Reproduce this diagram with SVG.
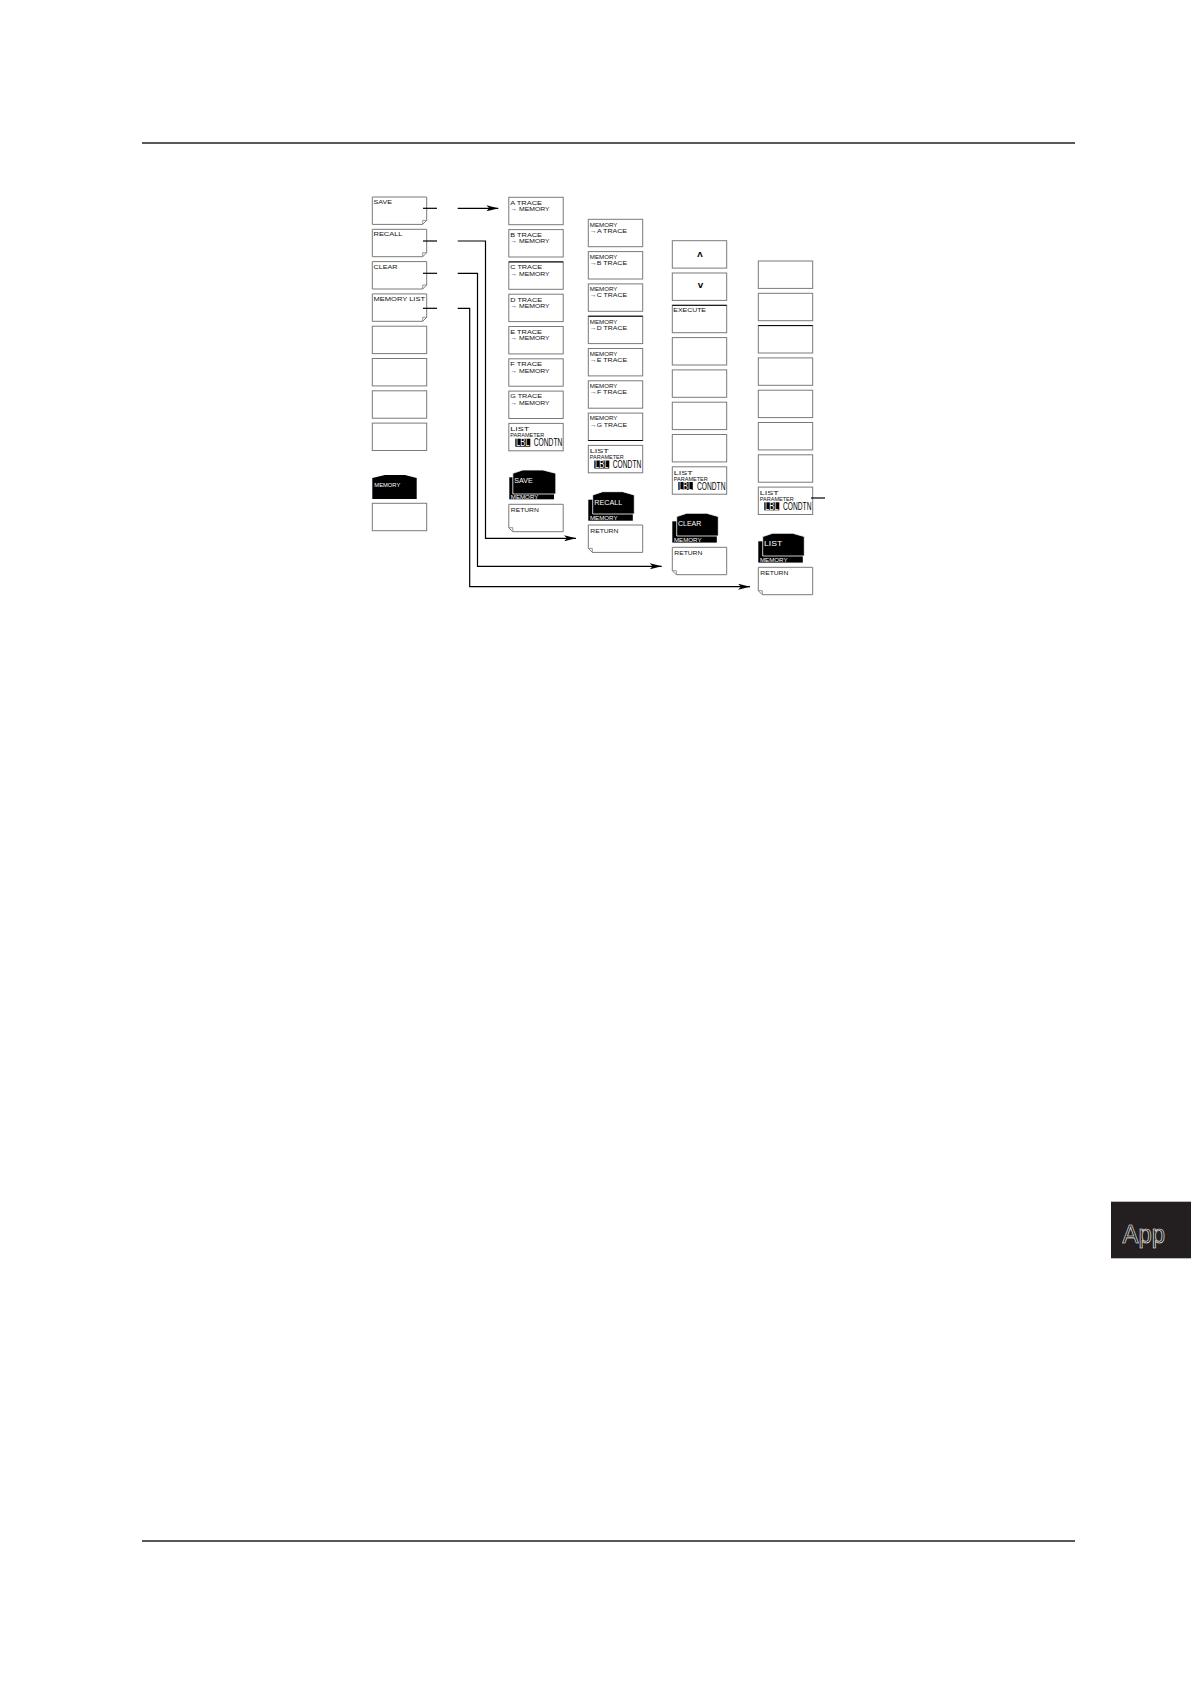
<svg xmlns="http://www.w3.org/2000/svg" width="1191" height="1684" viewBox="0 0 1191 1684">
<style>
.box{fill:#fff;stroke:#7a7a7a;stroke-width:1}
.flap{fill:none;stroke:#7a7a7a;stroke-width:0.8}
.edge{stroke:#000;stroke-width:1}
.t{font-family:"Liberation Sans","DejaVu Sans",sans-serif;font-size:6.2px;fill:#111}
.tw{font-family:"Liberation Sans","DejaVu Sans",sans-serif;font-size:6.2px;fill:#fff}
.tb{font-family:"Liberation Sans","DejaVu Sans",sans-serif;font-size:6.8px;fill:#fff}
.c{font-family:"Liberation Sans","DejaVu Sans",sans-serif;font-size:10px;fill:#000}
.cw{font-family:"Liberation Sans","DejaVu Sans",sans-serif;font-size:10px;fill:#fff}
.sym{font-family:"DejaVu Sans","Liberation Sans",sans-serif;font-size:7px;font-weight:bold;fill:#000}
.blk{fill:#000}
.front{fill:#000;stroke:#fff;stroke-width:0.8}
.conn{fill:none;stroke:#000;stroke-width:1.2}
.rule{stroke:#231f20;stroke-width:1.5}
</style>
<defs>
<marker id="ah" markerUnits="userSpaceOnUse" markerWidth="12" markerHeight="6" refX="12" refY="3" orient="auto">
<path d="M0,0 L12,3 L0,6 L3,3 Z" fill="#000"/>
</marker>
</defs>
<rect width="1191" height="1684" fill="#fff"/>
<line class="rule" x1="142" y1="143" x2="1075" y2="143"/>
<line class="rule" x1="142" y1="1541" x2="1075" y2="1541"/>

<!-- Column 1 -->
<g id="save">
<path class="box" d="M372.3,197 H426.7 V220.4 L422.7,224.4 H372.3 Z"/>
<path class="flap" d="M426.7,220.4 H422.7 V224.4"/>
<text class="t" x="373.5" y="204" textLength="18.4" lengthAdjust="spacingAndGlyphs">SAVE</text>
</g>
<g id="recall">
<path class="box" d="M372.3,229.3 H426.7 V252.7 L422.7,256.7 H372.3 Z"/>
<path class="flap" d="M426.7,252.7 H422.7 V256.7"/>
<text class="t" x="373.5" y="236.3" textLength="29" lengthAdjust="spacingAndGlyphs">RECALL</text>
</g>
<g id="clear">
<path class="box" d="M372.3,261.6 H426.7 V285 L422.7,289 H372.3 Z"/>
<path class="flap" d="M426.7,285 H422.7 V289"/>
<text class="t" x="373.5" y="268.6" textLength="24" lengthAdjust="spacingAndGlyphs">CLEAR</text>
</g>
<g id="memory-list">
<path class="box" d="M372.3,293.9 H426.7 V317.3 L422.7,321.3 H372.3 Z"/>
<path class="flap" d="M426.7,317.3 H422.7 V321.3"/>
<text class="t" x="373.5" y="300.9" textLength="51.5" lengthAdjust="spacingAndGlyphs">MEMORY LIST</text>
</g>
<g id="c1-blank1"><rect class="box" x="372.3" y="326.2" width="54.4" height="27.4"/></g>
<g id="c1-blank2"><rect class="box" x="372.3" y="358.5" width="54.4" height="27.4"/></g>
<g id="c1-blank3"><rect class="box" x="372.3" y="390.8" width="54.4" height="27.4"/></g>
<g id="c1-blank4"><rect class="box" x="372.3" y="423.1" width="54.4" height="27.4"/></g>
<g id="c1-tab">
<polygon class="blk" points="372.3,478 385,475 405,475 416.7,478 416.7,499 372.3,499"/>
<text class="tw" x="374.3" y="487" textLength="26" lengthAdjust="spacingAndGlyphs">MEMORY</text>
</g>
<g id="c1-blank5"><rect class="box" x="372.3" y="503.3" width="54.4" height="27.4"/></g>

<!-- Column 2 -->
<g id="a-trace"><rect class="box" x="508.8" y="197.3" width="54.4" height="27.4"/>
<text class="t" x="510.3" y="204.6" textLength="31.7" lengthAdjust="spacingAndGlyphs">A TRACE</text>
<text class="t" x="510.3" y="211.1" textLength="39.3" lengthAdjust="spacingAndGlyphs">→ MEMORY</text></g>
<g id="b-trace"><rect class="box" x="508.8" y="229.6" width="54.4" height="27.4"/>
<text class="t" x="510.3" y="236.9" textLength="31.7" lengthAdjust="spacingAndGlyphs">B TRACE</text>
<text class="t" x="510.3" y="243.4" textLength="39.3" lengthAdjust="spacingAndGlyphs">→ MEMORY</text></g>
<g id="c-trace"><rect class="box" x="508.8" y="261.9" width="54.4" height="27.4"/>
<line class="edge" x1="508.8" y1="261.9" x2="563.2" y2="261.9"/>
<text class="t" x="510.3" y="269.2" textLength="31.7" lengthAdjust="spacingAndGlyphs">C TRACE</text>
<text class="t" x="510.3" y="275.7" textLength="39.3" lengthAdjust="spacingAndGlyphs">→ MEMORY</text></g>
<g id="d-trace"><rect class="box" x="508.8" y="294.2" width="54.4" height="27.4"/>
<text class="t" x="510.3" y="301.5" textLength="31.7" lengthAdjust="spacingAndGlyphs">D TRACE</text>
<text class="t" x="510.3" y="308" textLength="39.3" lengthAdjust="spacingAndGlyphs">→ MEMORY</text></g>
<g id="e-trace"><rect class="box" x="508.8" y="326.5" width="54.4" height="27.4"/>
<text class="t" x="510.3" y="333.8" textLength="31.7" lengthAdjust="spacingAndGlyphs">E TRACE</text>
<text class="t" x="510.3" y="340.3" textLength="39.3" lengthAdjust="spacingAndGlyphs">→ MEMORY</text></g>
<g id="f-trace"><rect class="box" x="508.8" y="358.8" width="54.4" height="27.4"/>
<text class="t" x="510.3" y="366.1" textLength="31.7" lengthAdjust="spacingAndGlyphs">F TRACE</text>
<text class="t" x="510.3" y="372.6" textLength="39.3" lengthAdjust="spacingAndGlyphs">→ MEMORY</text></g>
<g id="g-trace"><rect class="box" x="508.8" y="391.1" width="54.4" height="27.4"/>
<text class="t" x="510.3" y="398.4" textLength="31.7" lengthAdjust="spacingAndGlyphs">G TRACE</text>
<text class="t" x="510.3" y="404.9" textLength="39.3" lengthAdjust="spacingAndGlyphs">→ MEMORY</text></g>
<g id="c2-list-param"><rect class="box" x="508.8" y="423.4" width="54.4" height="27.4"/>
<text class="t" x="510.3" y="431.1" textLength="19" lengthAdjust="spacingAndGlyphs">LIST</text>
<text class="t" x="510.3" y="437.1" textLength="34" lengthAdjust="spacingAndGlyphs">PARAMETER</text>
<rect class="blk" x="515.3" y="438.7" width="15" height="8"/>
<text class="cw" x="516" y="446.2" textLength="13.5" lengthAdjust="spacingAndGlyphs">LBL</text>
<text class="c" x="533.8" y="446.4" textLength="28.5" lengthAdjust="spacingAndGlyphs">CONDTN</text></g>
<g id="c2-tab">
<rect class="blk" x="509.3" y="477.3" width="44.7" height="22"/>
<polygon class="front" points="512.8,494 512.8,473.3 522.8,470 542.8,470 555.8,473.3 555.8,494"/>
<text class="tb" x="514.3" y="483" textLength="18.3" lengthAdjust="spacingAndGlyphs">SAVE</text>
<text class="tw" x="510.8" y="498.6" textLength="27.5" lengthAdjust="spacingAndGlyphs">MEMORY</text>
</g>
<g id="c2-return">
<path class="box" d="M508.8,504.3 H563.2 V531.7 H512.8 L508.8,527.7 Z"/>
<path class="flap" d="M508.8,527.7 H512.8 V531.7"/>
<text class="t" x="510.8" y="512.3" textLength="28" lengthAdjust="spacingAndGlyphs">RETURN</text>
</g>

<!-- Column 3 -->
<g id="mem-a"><rect class="box" x="588.3" y="219.3" width="54.4" height="27.4"/>
<text class="t" x="589.8" y="226.6" textLength="27.7" lengthAdjust="spacingAndGlyphs">MEMORY</text>
<text class="t" x="589.8" y="232.8" textLength="37.3" lengthAdjust="spacingAndGlyphs">→A TRACE</text></g>
<g id="mem-b"><rect class="box" x="588.3" y="251.6" width="54.4" height="27.4"/>
<text class="t" x="589.8" y="258.9" textLength="27.7" lengthAdjust="spacingAndGlyphs">MEMORY</text>
<text class="t" x="589.8" y="265.1" textLength="37.3" lengthAdjust="spacingAndGlyphs">→B TRACE</text></g>
<g id="mem-c"><rect class="box" x="588.3" y="283.9" width="54.4" height="27.4"/>
<text class="t" x="589.8" y="291.2" textLength="27.7" lengthAdjust="spacingAndGlyphs">MEMORY</text>
<text class="t" x="589.8" y="297.4" textLength="37.3" lengthAdjust="spacingAndGlyphs">→C TRACE</text></g>
<g id="mem-d"><rect class="box" x="588.3" y="316.2" width="54.4" height="27.4"/>
<line class="edge" x1="588.3" y1="316.2" x2="642.7" y2="316.2"/>
<text class="t" x="589.8" y="323.5" textLength="27.7" lengthAdjust="spacingAndGlyphs">MEMORY</text>
<text class="t" x="589.8" y="329.7" textLength="37.3" lengthAdjust="spacingAndGlyphs">→D TRACE</text></g>
<g id="mem-e"><rect class="box" x="588.3" y="348.5" width="54.4" height="27.4"/>
<text class="t" x="589.8" y="355.8" textLength="27.7" lengthAdjust="spacingAndGlyphs">MEMORY</text>
<text class="t" x="589.8" y="362" textLength="37.3" lengthAdjust="spacingAndGlyphs">→E TRACE</text></g>
<g id="mem-f"><rect class="box" x="588.3" y="380.8" width="54.4" height="27.4"/>
<text class="t" x="589.8" y="388.1" textLength="27.7" lengthAdjust="spacingAndGlyphs">MEMORY</text>
<text class="t" x="589.8" y="394.3" textLength="37.3" lengthAdjust="spacingAndGlyphs">→F TRACE</text></g>
<g id="mem-g"><rect class="box" x="588.3" y="413.1" width="54.4" height="27.4"/>
<line class="edge" x1="588.3" y1="440.5" x2="642.7" y2="440.5"/>
<text class="t" x="589.8" y="420.4" textLength="27.7" lengthAdjust="spacingAndGlyphs">MEMORY</text>
<text class="t" x="589.8" y="426.6" textLength="37.3" lengthAdjust="spacingAndGlyphs">→G TRACE</text></g>
<g id="c3-list-param"><rect class="box" x="588.3" y="445.4" width="54.4" height="27.4"/>
<text class="t" x="589.8" y="453.1" textLength="19" lengthAdjust="spacingAndGlyphs">LIST</text>
<text class="t" x="589.8" y="459.1" textLength="34" lengthAdjust="spacingAndGlyphs">PARAMETER</text>
<rect class="blk" x="594.3" y="460.5" width="15" height="8"/>
<text class="cw" x="595" y="468" textLength="13.5" lengthAdjust="spacingAndGlyphs">LBL</text>
<text class="c" x="612.8" y="468.2" textLength="28.5" lengthAdjust="spacingAndGlyphs">CONDTN</text></g>
<g id="c3-tab">
<rect class="blk" x="588.3" y="499.7" width="44.5" height="21"/>
<polygon class="front" points="592.7,514 592.7,495 602.7,491.7 622.7,491.7 634.3,495 634.3,514"/>
<text class="tb" x="594.2" y="504.7" textLength="28" lengthAdjust="spacingAndGlyphs">RECALL</text>
<text class="tw" x="590" y="520.2" textLength="27.5" lengthAdjust="spacingAndGlyphs">MEMORY</text>
</g>
<g id="c3-return">
<path class="box" d="M588.3,525 H642.7 V552.4 H592.3 L588.3,548.4 Z"/>
<path class="flap" d="M588.3,548.4 H592.3 V552.4"/>
<text class="t" x="590.3" y="533" textLength="28" lengthAdjust="spacingAndGlyphs">RETURN</text>
</g>

<!-- Column 4 -->
<g id="up"><rect class="box" x="672.3" y="240.7" width="54.4" height="27.4"/>
<text class="sym" x="700" y="257" text-anchor="middle">Λ</text></g>
<g id="down"><rect class="box" x="672.3" y="273" width="54.4" height="27.4"/>
<text class="sym" x="700.5" y="287.5" text-anchor="middle">V</text></g>
<g id="execute"><rect class="box" x="672.3" y="305.3" width="54.4" height="27.4"/>
<line class="edge" x1="672.3" y1="305.3" x2="726.7" y2="305.3"/>
<text class="t" x="673.3" y="312.3" textLength="32.7" lengthAdjust="spacingAndGlyphs">EXECUTE</text></g>
<g id="c4-blank1"><rect class="box" x="672.3" y="337.6" width="54.4" height="27.4"/></g>
<g id="c4-blank2"><rect class="box" x="672.3" y="369.9" width="54.4" height="27.4"/></g>
<g id="c4-blank3"><rect class="box" x="672.3" y="402.2" width="54.4" height="27.4"/></g>
<g id="c4-blank4"><rect class="box" x="672.3" y="434.5" width="54.4" height="27.4"/></g>
<g id="c4-list-param"><rect class="box" x="672.3" y="466.8" width="54.4" height="27.4"/>
<text class="t" x="673.8" y="474.5" textLength="19" lengthAdjust="spacingAndGlyphs">LIST</text>
<text class="t" x="673.8" y="480.5" textLength="34" lengthAdjust="spacingAndGlyphs">PARAMETER</text>
<rect class="blk" x="678.3" y="482" width="14.5" height="8"/>
<text class="cw" x="679" y="489.5" textLength="13" lengthAdjust="spacingAndGlyphs">LBL</text>
<text class="c" x="697" y="489.7" textLength="28.5" lengthAdjust="spacingAndGlyphs">CONDTN</text></g>
<g id="c4-tab">
<rect class="blk" x="672.3" y="521.3" width="44.5" height="21.3"/>
<polygon class="front" points="676.7,536 676.7,516.6 686.7,513.3 706.7,513.3 718.3,516.6 718.3,536"/>
<text class="tb" x="678" y="526.3" textLength="23.3" lengthAdjust="spacingAndGlyphs">CLEAR</text>
<text class="tw" x="674" y="542" textLength="27.5" lengthAdjust="spacingAndGlyphs">MEMORY</text>
</g>
<g id="c4-return">
<path class="box" d="M672.3,547.3 H726.7 V574.7 H676.3 L672.3,570.7 Z"/>
<path class="flap" d="M672.3,570.7 H676.3 V574.7"/>
<text class="t" x="674.3" y="555.3" textLength="28" lengthAdjust="spacingAndGlyphs">RETURN</text>
</g>

<!-- Column 5 -->
<g id="c5-blank1"><rect class="box" x="758.3" y="261" width="54.4" height="27.4"/></g>
<g id="c5-blank2"><rect class="box" x="758.3" y="293.3" width="54.4" height="27.4"/></g>
<g id="c5-blank3"><rect class="box" x="758.3" y="325.6" width="54.4" height="27.4"/>
<line class="edge" x1="758.3" y1="325.6" x2="812.7" y2="325.6"/></g>
<g id="c5-blank4"><rect class="box" x="758.3" y="357.9" width="54.4" height="27.4"/></g>
<g id="c5-blank5"><rect class="box" x="758.3" y="390.2" width="54.4" height="27.4"/></g>
<g id="c5-blank6"><rect class="box" x="758.3" y="422.5" width="54.4" height="27.4"/></g>
<g id="c5-blank7"><rect class="box" x="758.3" y="454.8" width="54.4" height="27.4"/></g>
<g id="c5-list-param"><rect class="box" x="758.3" y="487.1" width="54.4" height="27.4"/>
<text class="t" x="759.8" y="494.8" textLength="19" lengthAdjust="spacingAndGlyphs">LIST</text>
<text class="t" x="759.8" y="500.8" textLength="34" lengthAdjust="spacingAndGlyphs">PARAMETER</text>
<rect class="blk" x="764.3" y="502.3" width="15" height="8"/>
<text class="cw" x="765" y="509.8" textLength="13.5" lengthAdjust="spacingAndGlyphs">LBL</text>
<text class="c" x="783" y="510" textLength="28.5" lengthAdjust="spacingAndGlyphs">CONDTN</text></g>
<g id="c5-tab">
<rect class="blk" x="758.3" y="541.3" width="44.5" height="21.3"/>
<polygon class="front" points="762.7,556 762.7,536.6 772.7,533.3 792.7,533.3 804.3,536.6 804.3,556"/>
<text class="tb" x="764" y="546.3" textLength="18.3" lengthAdjust="spacingAndGlyphs">LIST</text>
<text class="tw" x="760" y="562" textLength="27.5" lengthAdjust="spacingAndGlyphs">MEMORY</text>
</g>
<g id="c5-return">
<path class="box" d="M758.3,567.3 H812.7 V594.7 H762.3 L758.3,590.7 Z"/>
<path class="flap" d="M758.3,590.7 H762.3 V594.7"/>
<text class="t" x="760.3" y="575.3" textLength="28" lengthAdjust="spacingAndGlyphs">RETURN</text>
</g>

<!-- Connectors -->
<g id="connectors">
<path class="conn" d="M423,208.3 H437"/>
<path class="conn" d="M457.7,208.3 H498.3" marker-end="url(#ah)"/>
<path class="conn" d="M423,241 H437"/>
<path class="conn" d="M457.7,241 H485.5 V538.3 H576" marker-end="url(#ah)"/>
<path class="conn" d="M423,273.3 H437"/>
<path class="conn" d="M457.7,273.3 H477.5 V566.3 H661.7" marker-end="url(#ah)"/>
<path class="conn" d="M423,308.3 H437"/>
<path class="conn" d="M457.7,308.3 H469.7 V586.7 H750" marker-end="url(#ah)"/>
<path class="conn" d="M811,498 H825"/>
</g>

<!-- App tab -->
<g id="app-tab">
<rect x="1111" y="1201.7" width="80" height="56.6" fill="#231f20"/>
<text x="1122.5" y="1243" font-family="Liberation Sans, Arial, sans-serif" font-size="25" fill="#231f20" stroke="#fff" stroke-width="0.6" textLength="42.5" lengthAdjust="spacingAndGlyphs">App</text>
</g>
</svg>
